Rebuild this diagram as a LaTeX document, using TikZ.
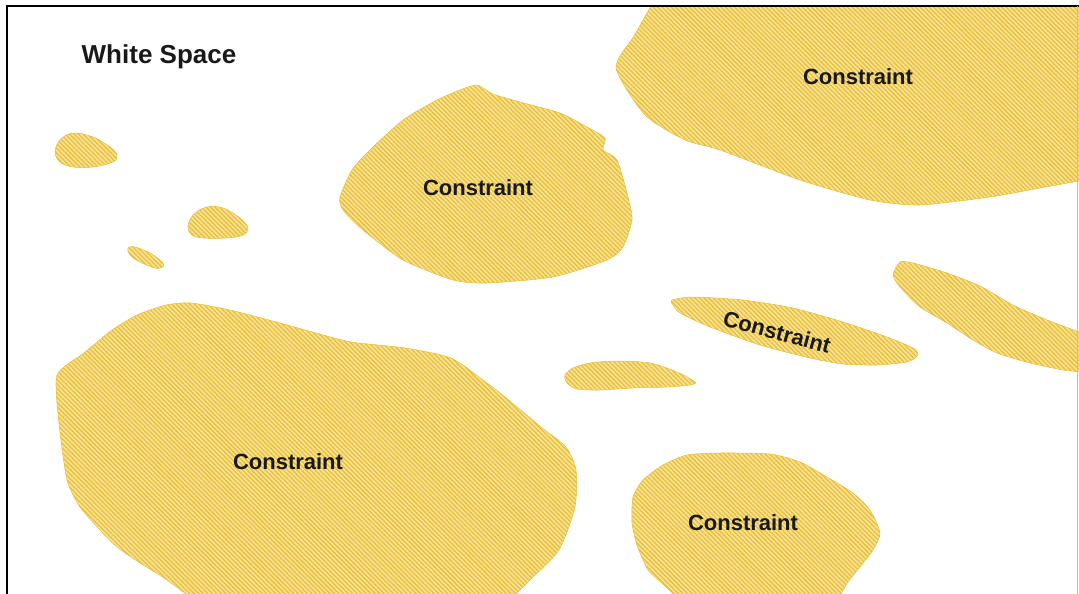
\documentclass[tikz,border=0pt]{standalone}
\usepackage{fontspec}
\setmainfont{Liberation Sans}
\usetikzlibrary{patterns.meta}

\begin{document}
\begin{tikzpicture}[
    x=1pt, y=-1pt,
    zone/.style={draw=hatchline, line width=0.5pt, preaction={fill=hatchfill},
        pattern={Lines[angle=-45, distance=3.2pt, line width=1.3pt]},
        pattern color=hatchline},
    zonetext/.style={font=\fontsize{22}{24}\selectfont\bfseries, text=black!90, inner sep=0pt}
]
\definecolor{hatchfill}{RGB}{250,227,145}
\definecolor{hatchline}{RGB}{232,190,62}

\useasboundingbox (0,0) rectangle (1079,594);

% ======================
% Constraint zones
% ======================
\begin{scope}
\clip (7,6) rectangle (1079,594);

% big zone, top right
\path[zone] plot[smooth cycle, tension=0.4] coordinates {
    (660,-12) (1110,-12) (1110,176) (1079,181) (1040,188) (990,197) (920,205)
    (870,200) (800,180) (720,150) (685,140) (645,115) (616,68) (634,36)
    (652,4)};

% middle zone
\path[zone] plot[smooth cycle, tension=0.4] coordinates {
    (477,85) (493,94) (520,102) (560,113) (587,127) (605,138) (603,150)
    (617,160) (628,197) (632,220) (623,247) (607,260) (553,277) (487,283)
    (453,280) (403,260) (363,230) (343,210) (340,197) (352,170) (370,150)
    (403,120) (437,100) (460,90)};

% big zone, bottom left
\path[zone] plot[smooth cycle, tension=0.4] coordinates {
    (57,375) (84,353) (112,330) (137,315) (166,305) (191,303) (230,310)
    (280,323) (316,333) (351,342) (405,348) (451,358) (487,383) (505,397)
    (541,427) (566,447) (576,470) (575,507) (559,550) (530,580) (505,605)
    (470,640) (240,640) (200,605) (167,580) (140,563) (117,547) (100,530)
    (80,507) (67,480) (59,423)};

% zone, bottom middle
\path[zone] plot[smooth cycle, tension=0.4] coordinates {
    (633,497) (643,480) (663,465) (687,455) (720,453) (770,454) (800,462)
    (827,477) (853,493) (870,510) (880,533) (873,550) (860,567) (848,582)
    (835,605) (820,640) (700,640) (680,602) (665,586) (648,570) (637,545)
    (632,523)};

% tilted zone
\path[zone] plot[smooth cycle, tension=0.4] coordinates {
    (672,300) (693,297) (743,300) (793,308) (843,322) (887,337) (913,348)
    (918,355) (907,362) (877,365) (843,364) (810,358) (760,345) (710,327)
    (680,313) (673,305)};

% zone, right edge
\path[zone] plot[smooth cycle, tension=0.4] coordinates {
    (900,262) (913,263) (947,273) (980,286) (1013,305) (1047,320) (1085,334)
    (1110,342) (1110,378) (1079,372) (1063,370) (1030,363) (997,353) (973,340)
    (947,323) (920,307) (900,287) (893,275)};

% small oval
\path[zone] plot[smooth cycle, tension=0.5] coordinates {
    (565,375) (573,368) (590,363) (617,361) (650,363) (677,372) (695,382)
    (690,385) (667,387) (633,388) (600,390) (577,389) (567,383)};

% small blobs, left
\path[zone] plot[smooth cycle, tension=0.6] coordinates {
    (55,152) (60,140) (73,133) (93,137) (110,147) (117,155) (113,162)
    (93,167) (73,167) (60,162)};
\path[zone] plot[smooth cycle, tension=0.6] coordinates {
    (188,227) (193,215) (207,207) (223,208) (240,218) (248,228) (243,235)
    (227,238) (203,238) (192,235)};
\path[zone] plot[smooth cycle, tension=0.6] coordinates {
    (128,248) (135,247) (150,253) (162,262) (163,267) (155,268) (140,262)
    (130,255)};
\end{scope}

% ======================
% Frame
% ======================
\draw[line width=1.2pt] (7,594) -- (7,6) -- (1079,6);
\draw[gray!50, line width=0.6pt] (1077,6) -- (1077,594);

% ======================
% Labels
% ======================
\node[zonetext, font=\fontsize{26}{29}\selectfont\bfseries] (whitespace) at (159,57) {White Space};
\node[zonetext] (conA) at (858,77)  {Constraint};
\node[zonetext] (conB) at (478,188) {Constraint};
\node[zonetext] (conC) at (288,462) {Constraint};
\node[zonetext] (conD) at (743,523) {Constraint};
\node[zonetext, rotate=-15] (conE) at (777,332) {Constraint};

\end{tikzpicture}
\end{document}
